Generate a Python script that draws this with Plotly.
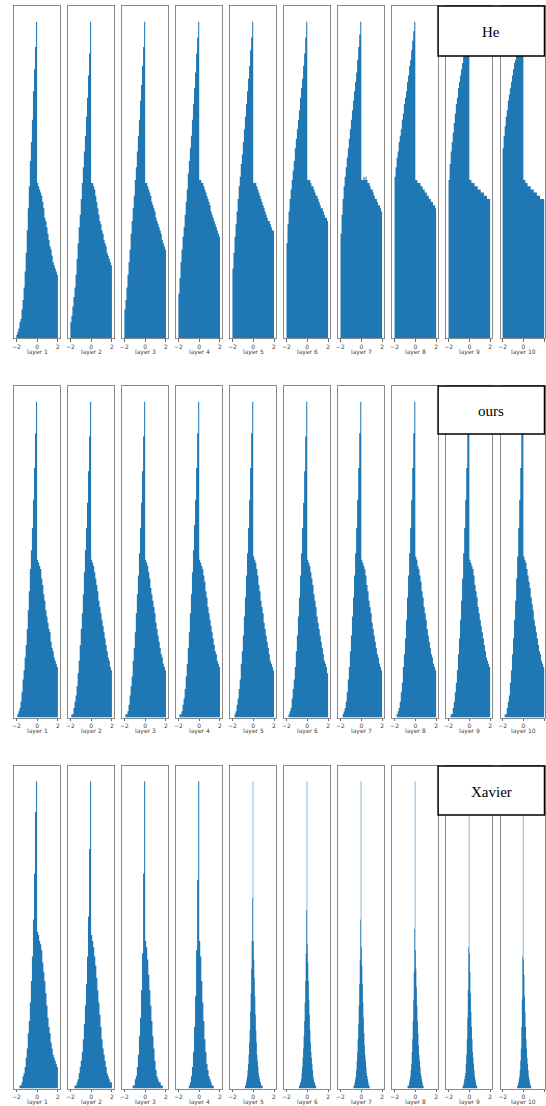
import numpy as np
import plotly.graph_objects as go

# Activation histograms per layer (bin heights, peak = 100).
# Wide panels: 40 bins over [-2, 2]; narrow panels: 40 bins over [-1, 1].
layer_names = [f"layer {i}" for i in range(1, 11)]
row_names = ["He", "ours", "Xavier"]
wide_bins = (-2.0, 2.0)
narrow_bins = (-1.0, 1.0)

he_1 = [1, 2, 3, 5, 6, 9, 12, 16, 21, 27, 34, 41, 48, 56, 62, 69, 78, 85, 92, 100,
        49, 48, 47, 46, 45, 43, 41, 38, 37, 35, 33, 31, 29, 28, 26, 24, 23, 22, 21, 20]
he_2 = [5, 7, 10, 13, 16, 20, 25, 30, 35, 39, 44, 49, 54, 59, 64, 70, 76, 83, 90, 100,
        49, 49, 48, 47, 45, 43, 41, 39, 37, 36, 34, 33, 31, 30, 29, 27, 26, 25, 24, 23]
he_3 = [9, 12, 16, 20, 24, 28, 33, 37, 41, 45, 50, 54, 59, 64, 69, 75, 80, 86, 92, 100,
        49, 49, 48, 47, 46, 45, 43, 42, 41, 40, 38, 37, 36, 35, 34, 33, 31, 30, 29, 28]
he_4 = [14, 19, 24, 28, 32, 35, 39, 43, 47, 52, 56, 60, 64, 69, 74, 79, 84, 90, 95, 100,
        50, 50, 49, 49, 48, 47, 46, 45, 44, 43, 42, 40, 39, 38, 37, 36, 35, 34, 33, 32]
he_5 = [22, 27, 32, 36, 40, 44, 48, 51, 55, 58, 62, 66, 70, 74, 78, 82, 86, 91, 95, 100,
        49, 49, 49, 48, 47, 46, 45, 44, 43, 42, 41, 40, 39, 38, 37, 37, 36, 35, 34, 34]
he_6 = [30, 36, 40, 44, 47, 50, 53, 56, 60, 63, 66, 69, 72, 76, 79, 82, 86, 90, 95, 100,
        50, 50, 50, 49, 48, 48, 47, 46, 45, 45, 44, 43, 42, 41, 41, 40, 39, 38, 38, 37]
he_7 = [33, 39, 44, 48, 51, 54, 57, 60, 63, 66, 69, 72, 75, 78, 81, 84, 88, 92, 96, 100,
        50, 50, 51, 50, 51, 50, 49, 49, 48, 47, 47, 46, 45, 44, 44, 43, 42, 42, 41, 40]
he_8 = [51, 54, 57, 59, 62, 64, 66, 69, 71, 74, 76, 78, 81, 83, 86, 88, 91, 94, 97, 100,
        50, 50, 49, 49, 49, 48, 48, 47, 47, 46, 46, 45, 45, 44, 44, 43, 43, 42, 42, 41]
he_9 = [50, 55, 59, 62, 65, 68, 71, 74, 76, 79, 81, 83, 85, 87, 89, 91, 93, 95, 97, 100,
        50, 50, 49, 49, 49, 48, 48, 48, 47, 47, 47, 46, 46, 46, 45, 45, 45, 44, 44, 44]
he_10 = [60, 64, 67, 70, 72, 75, 77, 79, 81, 83, 85, 87, 88, 90, 92, 93, 95, 96, 98, 100,
         50, 50, 49, 49, 48, 48, 48, 47, 47, 47, 46, 46, 46, 45, 45, 45, 44, 44, 44, 44]

ours_1 = [0, 1, 2, 3, 5, 8, 12, 15, 19, 23, 28, 34, 40, 47, 53, 60, 69, 79, 90, 100,
          50, 49, 48, 47, 44, 42, 39, 37, 34, 32, 30, 28, 27, 24, 22, 21, 19, 18, 17, 16]
ours_2 = [0, 1, 1, 3, 5, 7, 10, 14, 18, 23, 28, 33, 39, 46, 53, 60, 68, 78, 89, 100,
          50, 49, 48, 46, 44, 42, 40, 37, 35, 33, 31, 29, 27, 25, 23, 21, 19, 18, 16, 15]
ours_3 = [0, 1, 1, 2, 4, 7, 10, 13, 18, 22, 27, 33, 39, 45, 52, 60, 68, 78, 89, 100,
          50, 49, 48, 46, 44, 41, 39, 37, 35, 33, 30, 28, 26, 24, 22, 20, 19, 17, 16, 15]
ours_4 = [0, 1, 1, 2, 4, 6, 9, 13, 17, 22, 27, 33, 39, 46, 53, 61, 69, 79, 90, 100,
          50, 49, 48, 47, 45, 43, 40, 38, 35, 33, 31, 29, 27, 25, 23, 21, 20, 18, 17, 16]
ours_5 = [0, 0, 1, 2, 4, 6, 9, 12, 17, 21, 26, 32, 38, 45, 52, 60, 69, 79, 90, 100,
          51, 50, 49, 47, 45, 42, 40, 37, 35, 33, 30, 28, 26, 24, 22, 20, 18, 17, 16, 15]
ours_6 = [0, 0, 1, 2, 3, 6, 9, 12, 16, 21, 26, 32, 38, 45, 52, 60, 68, 78, 89, 100,
          50, 49, 48, 46, 44, 42, 39, 37, 35, 32, 30, 28, 26, 24, 22, 20, 18, 17, 16, 14]
ours_7 = [0, 0, 1, 2, 3, 5, 8, 12, 16, 21, 26, 32, 38, 45, 52, 60, 69, 79, 90, 100,
          50, 49, 48, 47, 45, 42, 40, 37, 35, 33, 30, 28, 26, 24, 22, 20, 19, 17, 16, 15]
ours_8 = [0, 0, 1, 2, 3, 5, 8, 11, 16, 20, 25, 31, 38, 45, 52, 60, 69, 79, 90, 100,
          51, 50, 48, 47, 45, 43, 40, 38, 35, 33, 31, 28, 26, 24, 22, 20, 19, 17, 16, 15]
ours_9 = [0, 0, 1, 1, 3, 5, 8, 11, 15, 20, 25, 31, 37, 44, 52, 60, 69, 79, 90, 100,
          50, 49, 48, 47, 45, 42, 40, 38, 35, 33, 31, 29, 27, 25, 23, 21, 19, 18, 17, 16]
ours_10 = [0, 0, 1, 1, 3, 5, 7, 11, 15, 20, 25, 31, 37, 44, 51, 60, 69, 79, 90, 100,
           51, 50, 49, 47, 45, 43, 41, 38, 36, 34, 31, 29, 27, 25, 23, 21, 20, 18, 17, 16]

xavier_1 = [0, 0, 0, 1, 1, 2, 4, 5, 7, 10, 13, 18, 22, 28, 35, 43, 55, 70, 90, 100,
            51, 50, 48, 47, 45, 41, 38, 35, 31, 27, 23, 20, 18, 15, 13, 11, 10, 9, 8, 7]
xavier_2 = [0, 0, 0, 0, 1, 1, 2, 3, 5, 7, 9, 12, 16, 21, 27, 34, 43, 56, 78, 100,
            50, 48, 46, 43, 40, 36, 32, 28, 24, 20, 16, 13, 11, 9, 7, 5, 4, 3, 2, 2]
xavier_3 = [0, 0, 0, 0, 0, 0, 0, 0, 1, 1, 3, 4, 7, 11, 17, 23, 32, 44, 70, 100,
            48, 46, 42, 37, 32, 27, 22, 17, 13, 9, 6, 4, 3, 2, 2, 1, 1, 0, 0, 0]
xavier_4 = [0, 0, 0, 0, 0, 0, 0, 0, 0, 0, 1, 2, 4, 7, 12, 20, 30, 45, 68, 100,
            48, 43, 35, 28, 22, 16, 12, 8, 6, 4, 3, 2, 1, 1, 0, 0, 0, 0, 0, 0]
xavier_5 = [0, 0, 0, 0, 1, 1, 2, 3, 4, 6, 8, 11, 15, 19, 25, 31, 39, 48, 62, 100,
            48, 42, 36, 30, 24, 19, 15, 11, 9, 7, 5, 4, 3, 2, 2, 1, 1, 1, 0, 0]
xavier_6 = [0, 0, 0, 0, 1, 1, 2, 2, 3, 5, 7, 10, 13, 17, 22, 28, 35, 44, 58, 100,
            47, 41, 35, 29, 24, 19, 15, 12, 10, 8, 6, 4, 3, 2, 2, 1, 1, 0, 0, 0]
xavier_7 = [0, 0, 0, 0, 0, 1, 1, 2, 3, 4, 6, 9, 12, 16, 21, 27, 34, 42, 55, 100,
            46, 40, 34, 28, 23, 18, 14, 11, 9, 7, 5, 4, 3, 2, 1, 1, 0, 0, 0, 0]
xavier_8 = [0, 0, 0, 0, 0, 1, 1, 1, 2, 3, 4, 6, 8, 12, 16, 22, 29, 38, 52, 100,
            45, 39, 33, 27, 22, 18, 14, 11, 9, 7, 5, 4, 3, 2, 1, 1, 0, 0, 0, 0]
xavier_9 = [0, 0, 0, 0, 0, 0, 0, 1, 1, 2, 3, 4, 5, 8, 11, 16, 23, 32, 46, 100,
            44, 38, 31, 25, 20, 16, 12, 10, 8, 6, 4, 3, 2, 1, 1, 0, 0, 0, 0, 0]
xavier_10 = [0, 0, 0, 0, 0, 0, 0, 0, 1, 1, 2, 3, 4, 6, 9, 13, 20, 29, 43, 100,
             42, 37, 30, 25, 20, 16, 13, 10, 8, 6, 4, 3, 2, 1, 1, 0, 0, 0, 0, 0]

he_rows = [he_1, he_2, he_3, he_4, he_5, he_6, he_7, he_8, he_9, he_10]
ours_rows = [ours_1, ours_2, ours_3, ours_4, ours_5, ours_6, ours_7, ours_8, ours_9, ours_10]
xavier_rows = [xavier_1, xavier_2, xavier_3, xavier_4, xavier_5,
               xavier_6, xavier_7, xavier_8, xavier_9, xavier_10]

# ---- layout geometry (pixels) ----
W, H = 546, 1106
BLUE = "#1f77b4"
FRAME = "#8a8a8a"
col_left0, col_pitch, col_w = 12.3, 54.33, 46.0
row_spans = [(6.0, 338.0), (386.0, 717.5), (766.0, 1088.5)]
label_offset = 13.5
x_lo, x_hi = -2.2, 2.2
px_per_unit = col_w / (x_hi - x_lo)
legend_boxes = [(438.5, 545.5, 6.0, 56.0), (438.5, 545.5, 386.0, 434.0), (438.5, 545.5, 766.0, 815.0)]

fig = go.Figure()
layout = {}
annotations = []
shapes = []

panel = 0
for r, (rname, series) in enumerate(zip(row_names, [he_rows, ours_rows, xavier_rows])):
    top, bot = row_spans[r]
    for c in range(10):
        panel += 1
        heights = series[c]
        lo, hi = narrow_bins if (rname == "Xavier" and c >= 4) else wide_bins
        edges = np.linspace(lo, hi, len(heights) + 1)
        ys = list(heights) + [heights[-1]]
        suffix = "" if panel == 1 else str(panel)
        fig.add_trace(go.Scatter(
            x=edges, y=ys, mode="lines",
            line=dict(width=0, shape="hv", color=BLUE),
            fill="tozeroy", fillcolor=BLUE,
            xaxis="x" + suffix, yaxis="y" + suffix,
            hoverinfo="skip", showlegend=False,
        ))
        left = col_left0 + c * col_pitch
        right = min(left + col_w, W)
        xr = [x_lo, x_lo + (right - left) / px_per_unit]
        layout["xaxis" + suffix] = dict(
            domain=[left / W, right / W], range=xr, anchor="y" + suffix,
            showgrid=False, zeroline=False,
            showline=True, mirror=True, linecolor=FRAME, linewidth=1,
            ticks="outside", ticklen=2.5, tickwidth=0.8, tickcolor="#666",
            tickvals=[-2, 0, 2], ticktext=["\u22122", "0", "2"],
            tickfont=dict(family="DejaVu Sans", size=6, color="#444"),
            fixedrange=True,
        )
        layout["yaxis" + suffix] = dict(
            domain=[1 - bot / H, 1 - top / H], range=[0, 105], anchor="x" + suffix,
            showgrid=False, zeroline=False, showticklabels=False, ticks="",
            showline=True, mirror=True, linecolor=FRAME, linewidth=1,
            fixedrange=True,
        )
        annotations.append(dict(
            text=layer_names[c], xref="paper", yref="paper",
            x=(left + col_w / 2) / W, y=1 - (bot + label_offset) / H,
            xanchor="center", yanchor="middle", showarrow=False,
            font=dict(family="DejaVu Sans", size=6, color="#444"),
        ))

    bx0, bx1, by0, by1 = legend_boxes[r]
    shapes.append(dict(
        type="rect", xref="paper", yref="paper",
        x0=bx0 / W, x1=bx1 / W, y0=1 - by1 / H, y1=1 - by0 / H,
        line=dict(color="black", width=1.5), fillcolor="white", layer="above",
    ))
    annotations.append(dict(
        text=rname, xref="paper", yref="paper",
        x=(bx0 + bx1) / 2 / W, y=1 - ((by0 + by1) / 2 + 1) / H,
        xanchor="center", yanchor="middle", showarrow=False,
        font=dict(family="Liberation Serif", size=15, color="black"),
    ))

fig.update_layout(
    width=W, height=H,
    margin=dict(l=0, r=0, t=0, b=0),
    paper_bgcolor="white", plot_bgcolor="white",
    annotations=annotations, shapes=shapes,
    showlegend=False,
    **layout,
)

fig.write_html("out.html", config={"displayModeBar": False})
